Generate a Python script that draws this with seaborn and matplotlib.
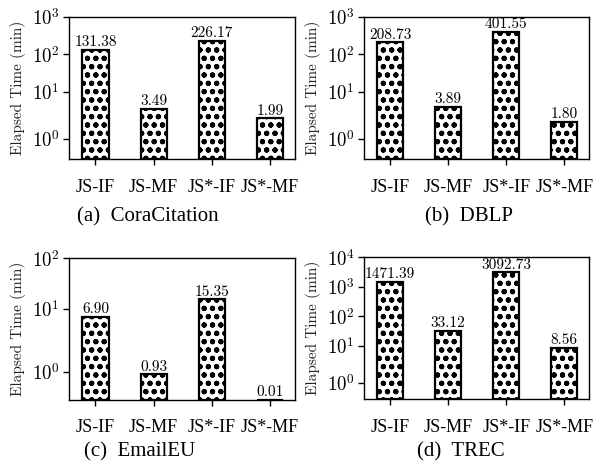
import matplotlib
matplotlib.use("Agg")
import matplotlib.pyplot as plt
import seaborn as sns
from matplotlib.ticker import NullLocator

methods = ["JS-IF", "JS-MF", "JS*-IF", "JS*-MF"]
cora = [131.38, 3.49, 226.17, 1.99]
dblp = [208.73, 3.89, 401.55, 1.80]
email = [6.90, 0.93, 15.35, 0.01]
trec = [1471.39, 33.12, 3092.73, 8.56]
captions = ["(a)  CoraCitation", "(b)  DBLP", "(c)  EmailEU", "(d)  TREC"]
ytops = [3, 3, 2, 4]

sns.set_theme(style="ticks")
plt.rcParams["mathtext.fontset"] = "cm"
plt.rcParams["font.family"] = ["Liberation Serif", "DejaVu Serif"]
plt.rcParams["hatch.linewidth"] = 1.4
plt.rcParams["axes.unicode_minus"] = False

W, H = 604, 475
fig = plt.figure(figsize=(W / 100, H / 100), dpi=100)

# axes rectangles in pixels: left, top, right, bottom
rects = [(69.3, 16.7, 295.0, 159.3), (364.0, 16.7, 589.3, 159.3),
         (69.3, 258.3, 295.0, 400.0), (364.0, 257.3, 589.3, 399.3)]
cap_pos = [(148, 217), (469, 217), (140, 452), (461, 452)]
datasets = [cora, dblp, email, trec]

for rect, data, cap, cp, top in zip(rects, datasets, captions, cap_pos, ytops):
    l, t, r, b = rect
    ax = fig.add_axes([l / W, 1 - b / H, (r - l) / W, (b - t) / H])
    sns.barplot(x=methods, y=data, ax=ax, color="white", edgecolor="black",
                linewidth=1.6, hatch="oo..", width=0.45, saturation=1)
    ax.set_yscale("symlog", linthresh=2, linscale=1)
    ax.set_ylim(0, 10 ** top)
    ticks = [10 ** k for k in range(0, top + 1)]
    ax.set_yticks(ticks, labels=[r"$10^{%d}$" % k for k in range(0, top + 1)])
    ax.yaxis.set_minor_locator(NullLocator())
    ax.set_xlim(-0.45, 3.43)
    for sp in ax.spines.values():
        sp.set_visible(True)
        sp.set_color("black")
        sp.set_linewidth(1.0)
    ax.tick_params(axis="y", direction="out", length=4.5, width=1.0,
                   labelsize=13.5, pad=2.5, colors="black")
    ax.tick_params(axis="x", direction="out", length=4.5, width=1.0,
                   labelsize=13, pad=9.5, colors="black")
    for lab in ax.get_xticklabels():
        lab.set_fontfamily(["Liberation Serif", "DejaVu Serif"])
    ax.set_xlabel("")
    ax.set_ylabel("Elapsed Time (min)", fontfamily="cmr10", fontsize=11,
                  color="#222222", labelpad=4)
    for i, v in enumerate(data):
        ax.annotate(f"{v:.2f}", (i, v), xytext=(0, 0.3), textcoords="offset points",
                    ha="center", va="bottom", fontfamily="cmr10", fontsize=11,
                    color="black")
    fig.text(cp[0] / W, 1 - cp[1] / H, cap, ha="center", va="center",
             fontsize=15, fontfamily=["Liberation Serif", "DejaVu Serif"],
             color="black")

fig.savefig("out.png", dpi=100)
